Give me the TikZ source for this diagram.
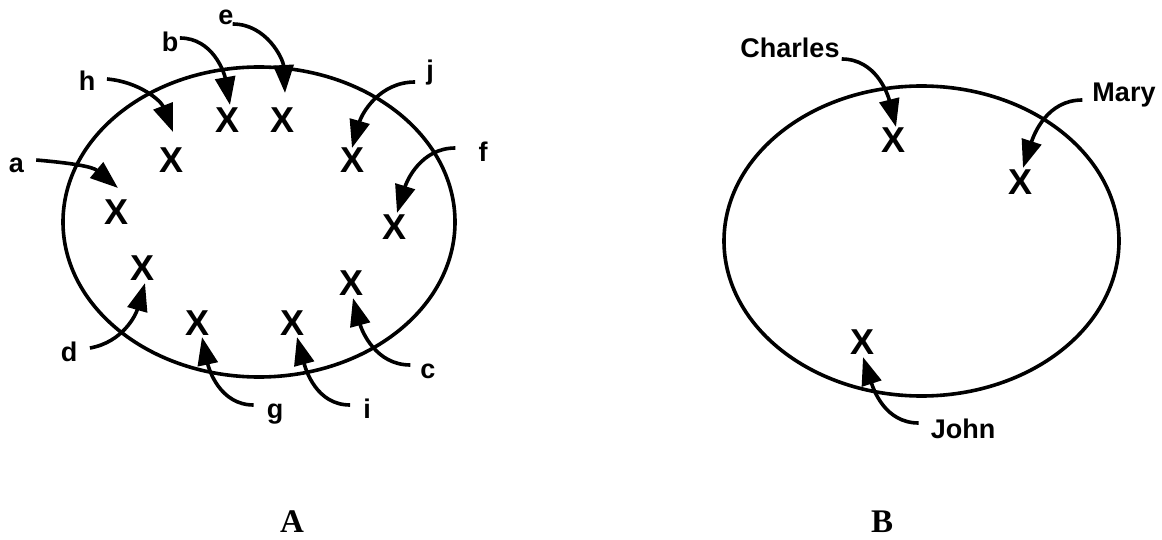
\documentclass[tikz,border=0pt]{standalone}
\usepackage{fontspec}
\setmainfont{Liberation Sans}
\newfontfamily\lblfont{Liberation Sans Bold}
\newfontfamily\xfont{Liberation Sans Bold}
\newfontfamily\capfont{Liberation Serif Bold}
\usetikzlibrary{arrows.meta}
\tikzset{
  lbl/.style={font=\lblfont\fontsize{27}{31}\selectfont, inner sep=0pt, anchor=base},
  xmark/.style={font=\xfont\fontsize{36}{40}\selectfont, inner sep=0pt},
  arr/.style={line width=3.6pt, -{Triangle[length=28pt,width=20pt]}},
  oval/.style={line width=3.6pt},
  captionlbl/.style={font=\capfont\fontsize{33}{37}\selectfont, inner sep=0pt, anchor=base}
}
\begin{document}
\begin{tikzpicture}[x=1pt,y=-1pt]
\useasboundingbox (0,0) rectangle (1162,540);
% ovals
\draw[oval] (259,222) ellipse [x radius=196, y radius=155];
\draw[oval] (921.5,241) ellipse [x radius=197.5, y radius=155];
% X marks, left
\node[xmark] (xa) at (117,212) {X};
\node[xmark] (xb) at (228,120) {X};
\node[xmark] (xe) at (283,120) {X};
\node[xmark] (xh) at (172,160) {X};
\node[xmark] (xj) at (353,160) {X};
\node[xmark] (xf) at (395,227) {X};
\node[xmark] (xd) at (143,268) {X};
\node[xmark] (xc) at (352,283) {X};
\node[xmark] (xg) at (198,323) {X};
\node[xmark] (xi) at (293,323) {X};
% X marks, right
\node[xmark] (xch) at (893,140) {X};
\node[xmark] (xm) at (1020,182) {X};
\node[xmark] (xjo) at (862,342) {X};
% labels
\node[lbl] (la) at (16.5,173) {a};
\node[lbl] (lh) at (87,91) {h};
\node[lbl] (lb) at (170,52) {b};
\node[lbl] (le) at (226,25) {e};
\node[lbl] (lj) at (430,80) {j};
\node[lbl] (lf) at (483,162) {f};
\node[lbl] (ld) at (69,361) {d};
\node[lbl] (lg) at (275,418) {g};
\node[lbl] (li) at (367,418) {i};
\node[lbl] (lc) at (428,378) {c};
\node[lbl] (lch) at (790,58) {Charles};
\node[lbl] (lm) at (1124,102) {Mary};
\node[lbl] (ljo) at (963,438) {John};
\node[captionlbl] (capA) at (292,532) {A};
\node[captionlbl] (capB) at (882,532) {B};
% arrow tips
\coordinate (ta) at (118,188);
\coordinate (th) at (173,132);
\coordinate (tb) at (230,105);
\coordinate (te) at (285,93);
\coordinate (tj) at (352,148);
\coordinate (tf) at (397,213);
\coordinate (td) at (145,283);
\coordinate (tg) at (202,337);
\coordinate (ti) at (297,337);
\coordinate (tc) at (353,298);
\coordinate (tch) at (896,127);
\coordinate (tm) at (1023,168);
\coordinate (tjo) at (863,357);
% arrows
\draw[arr] ([shift={(12,-13)}]la.base east) to[out=-5,in=140] (ta);
\draw[arr] ([shift={(11.5,-12)}]lh.base east) to[out=-5,in=111] (th);
\draw[arr] ([shift={(1.5,-14)}]lb.base east) to[out=0,in=100] (tb);
\draw[arr] ([shift={(-1,-1)}]le.base east) to[out=0,in=93] (te);
\draw[arr] ([shift={(-11,2)}]lj.base west) to[out=180,in=74] (tj);
\draw[arr] ([shift={(-23,-14)}]lf.base west) to[out=180,in=73] (tf);
\draw[arr] ([shift={(12.5,-13)}]ld.base east) to[out=10,in=-106] (td);
\draw[arr] ([shift={(-13,-13)}]lg.base west) to[out=180,in=-78] (tg);
\draw[arr] ([shift={(-13,-13)}]li.base west) to[out=180,in=-75] (ti);
\draw[arr] ([shift={(-10,-13)}]lc.base west) to[out=180,in=-75] (tc);
\draw[arr] ([shift={(2,1)}]lch.base east) to[out=0,in=104] (tch);
\draw[arr] ([shift={(-10,-2)}]lm.base west) to[out=180,in=72] (tm);
\draw[arr] ([shift={(-12,-15)}]ljo.base west) to[out=180,in=-72] (tjo);
\end{tikzpicture}
\end{document}
